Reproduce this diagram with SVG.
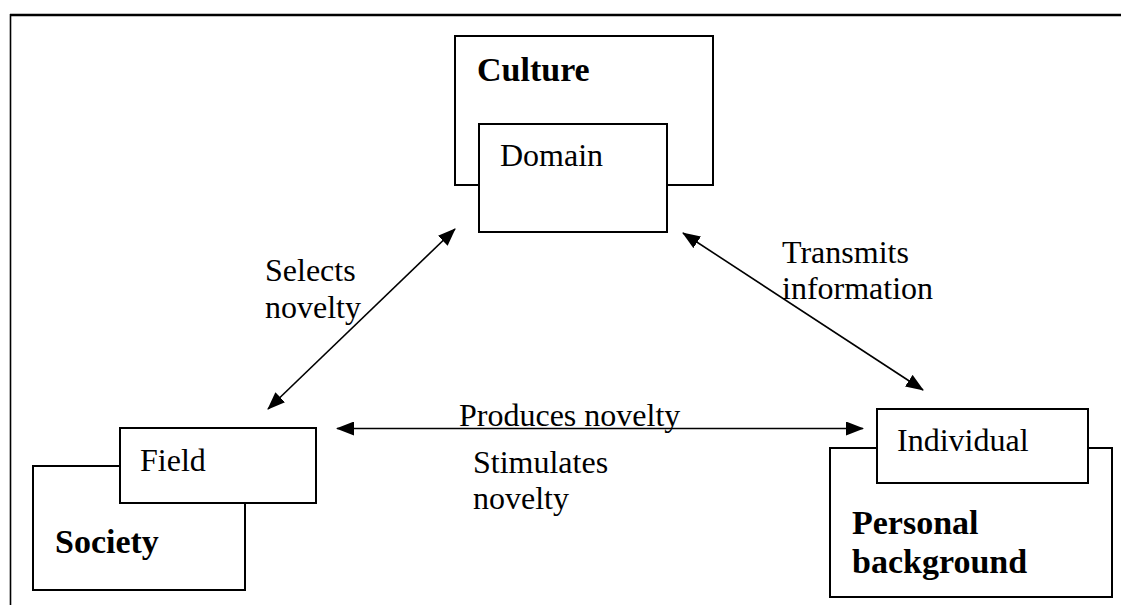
<svg xmlns="http://www.w3.org/2000/svg" width="1121" height="605" viewBox="0 0 1121 605">
<style>
.box{fill:#fff;stroke:#000;stroke-width:2}
.t{font-family:"Liberation Serif","Times New Roman",serif;font-size:32px;fill:#000}
.b{font-family:"Liberation Serif","Times New Roman",serif;font-size:34px;font-weight:bold;fill:#000}
.c{stroke:#000;stroke-width:1.6;fill:none;marker-start:url(#ah);marker-end:url(#ah)}
</style>
<defs>
<marker id="ah" viewBox="0 0 18 14" refX="17" refY="7" markerWidth="18" markerHeight="14" markerUnits="userSpaceOnUse" orient="auto-start-reverse">
<path d="M0,0 L18,7 L0,14 Z" fill="#000"/>
</marker>
</defs>
<rect width="1121" height="605" fill="#fff"/>
<g id="frame">
<line x1="10" y1="15" x2="1121" y2="15" stroke="#000" stroke-width="2.5"/>
<line x1="10.5" y1="14" x2="10.5" y2="605" stroke="#000" stroke-width="1.6"/>
</g>
<g id="culture">
<rect class="box" x="455" y="36" width="258" height="149"/>
<text class="b" x="477" y="81">Culture</text>
</g>
<g id="domain">
<rect class="box" x="479" y="124" width="188" height="108"/>
<text class="t" x="500" y="166">Domain</text>
</g>
<g id="society">
<rect class="box" x="33" y="466" width="212" height="124"/>
<text class="b" x="55" y="553">Society</text>
</g>
<g id="field">
<rect class="box" x="120" y="428" width="196" height="75"/>
<text class="t" x="140" y="471">Field</text>
</g>
<g id="personal">
<rect class="box" x="830" y="448" width="282" height="149"/>
<text class="b" x="852" y="534">Personal</text>
<text class="b" x="852" y="573">background</text>
</g>
<g id="individual">
<rect class="box" x="877" y="409" width="211" height="74"/>
<text class="t" x="897" y="451">Individual</text>
</g>
<g id="connectors">
<line class="c" x1="268" y1="409" x2="455" y2="229"/>
<line class="c" x1="683" y1="233" x2="923" y2="390"/>
<line class="c" x1="337" y1="428.5" x2="863" y2="428.5"/>
</g>
<g id="labels">
<text class="t" x="265" y="281">Selects</text>
<text class="t" x="265" y="318">novelty</text>
<text class="t" x="782" y="263">Transmits</text>
<text class="t" x="782" y="299">information</text>
<text class="t" x="459" y="426">Produces novelty</text>
<text class="t" x="473" y="473">Stimulates</text>
<text class="t" x="473" y="509">novelty</text>
</g>
</svg>
